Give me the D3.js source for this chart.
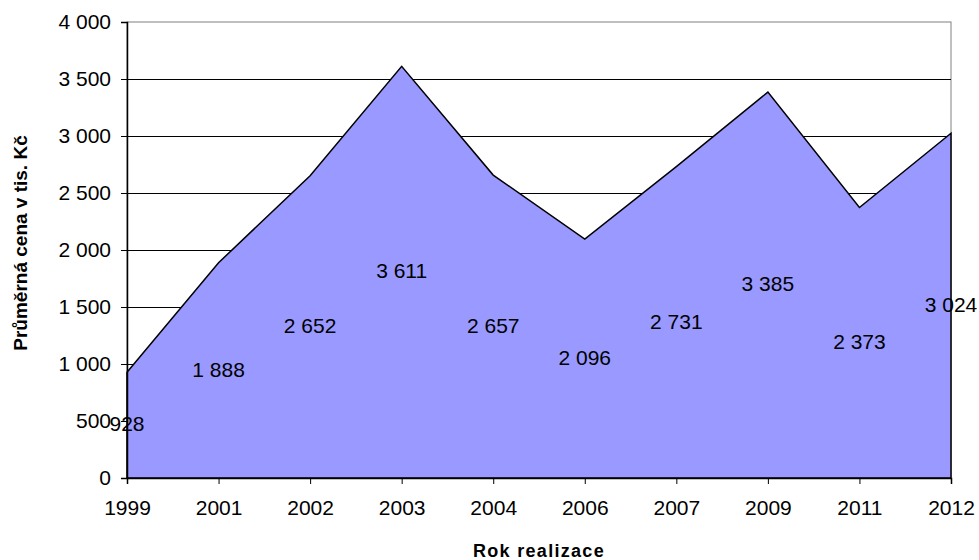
<!DOCTYPE html>
<html>
<head>
<meta charset="utf-8">
<script src="https://cdn.jsdelivr.net/npm/d3@7"></script>
<style>
  body { margin: 0; background: #fff; }
  text { font-family: "Liberation Sans", Arial, sans-serif; fill: #000; }
</style>
</head>
<body>
<svg id="chart" width="979" height="560"></svg>
<script>
// Average realised price per year (thousand CZK)
const years = ["1999", "2001", "2002", "2003", "2004", "2006", "2007", "2009", "2011", "2012"];
const prices = [928, 1888, 2652, 3611, 2657, 2096, 2731, 3385, 2373, 3024];
const yTicks = [0, 500, 1000, 1500, 2000, 2500, 3000, 3500, 4000];
const xTitle = "Rok realizace";
const yTitle = "Průměrná cena v tis. Kč";

const svg = d3.select("#chart");
const plotL = 127, plotR = 951, plotT = 22, plotB = 478;
const fontFamily = "'Liberation Sans', Arial, sans-serif";

const x = d3.scalePoint().domain(years).range([plotL, plotR]);
const y = d3.scaleLinear().domain([0, 4000]).range([plotB, plotT]);

const fmt = v => d3.format(",")(v).replace(/,/g, " ");

// plot-area border
svg.append("rect")
  .attr("x", plotL).attr("y", plotT)
  .attr("width", plotR - plotL).attr("height", plotB - plotT)
  .attr("fill", "#fff").attr("stroke", "#808080").attr("stroke-width", 1);

// horizontal gridlines
svg.append("g").selectAll("line")
  .data(yTicks.filter(t => t > 0 && t < 4000))
  .join("line")
  .attr("x1", plotL).attr("x2", plotR)
  .attr("y1", d => y(d) + 0.5).attr("y2", d => y(d) + 0.5)
  .attr("stroke", "#000").attr("stroke-width", 1);

// area series
const data = years.map((yr, i) => ({ yr, v: prices[i] }));
const area = d3.area()
  .x(d => x(d.yr))
  .y0(y(0))
  .y1(d => y(d.v));
svg.append("path")
  .datum(data)
  .attr("d", area)
  .attr("fill", "#9999FF")
  .attr("stroke", "#000")
  .attr("stroke-width", 1.5)
  .attr("stroke-linejoin", "miter");

// axes
const yAxis = d3.axisLeft(y).tickValues(yTicks).tickFormat(fmt).tickSize(6).tickPadding(10);
const gy = svg.append("g").attr("transform", `translate(${plotL},0)`).call(yAxis);
const xAxis = d3.axisBottom(x).tickSize(6).tickPadding(16);
const gx = svg.append("g").attr("transform", `translate(0,${plotB})`).call(xAxis);
[gy, gx].forEach(g => {
  g.attr("font-size", null).attr("font-family", null);
  g.selectAll("text").style("font-size", "21px").style("font-family", fontFamily);
  g.selectAll("line").attr("stroke", "#000");
  g.select(".domain").attr("stroke", "#000").attr("stroke-width", 1.5);
});

// data labels, centred in the middle of each column of the area
svg.append("g").selectAll("text")
  .data(data)
  .join("text")
  .attr("x", d => x(d.yr))
  .attr("y", d => y(d.v / 2))
  .attr("dy", "0.3em")
  .attr("text-anchor", "middle")
  .style("font-size", "21px")
  .text(d => fmt(d.v));

// axis titles
svg.append("text")
  .attr("x", 539).attr("y", 557)
  .attr("text-anchor", "middle")
  .style("font-size", "18px").style("font-weight", "bold")
  .style("letter-spacing", "1.3px")
  .text(xTitle);
svg.append("text")
  .attr("transform", `translate(27,243) rotate(-90)`)
  .attr("text-anchor", "middle")
  .style("font-size", "19px").style("font-weight", "bold")
  .text(yTitle);
</script>
</body>
</html>
